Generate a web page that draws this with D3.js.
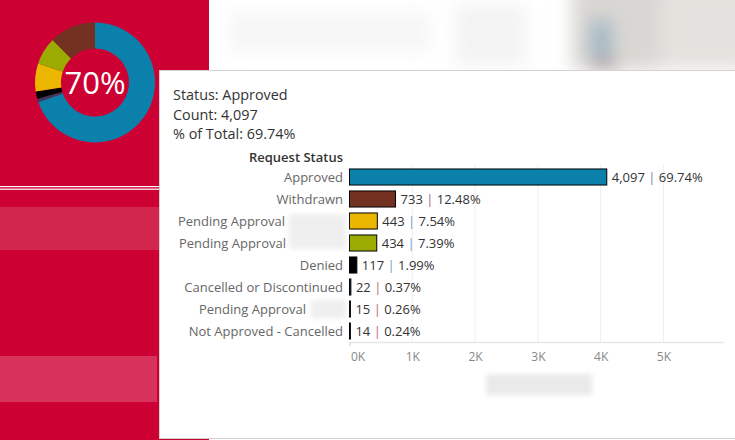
<!DOCTYPE html>
<html><head><meta charset="utf-8">
<script src="https://cdn.jsdelivr.net/npm/d3@7"></script>
<style>
html,body{margin:0;padding:0;background:#fff;overflow:hidden}
svg{display:block;font-family:"Open Sans","Noto Sans",sans-serif}
</style></head>
<body>
<svg id="c" width="735" height="440"></svg>
<script>
// ---- data ----
const categories = ["Approved","Withdrawn","Pending Approval","Pending Approval","Denied","Cancelled or Discontinued","Pending Approval","Not Approved - Cancelled"];
const counts = [4097,733,443,434,117,22,15,14];
const percents = ["69.74%","12.48%","7.54%","7.39%","1.99%","0.37%","0.26%","0.24%"];
const xTicks = [0,1000,2000,3000,4000,5000];
const xTickLabels = ["0K","1K","2K","3K","4K","5K"];
const donutOrder = [0,7,6,5,4,2,3,1]; // clockwise from 12 o'clock
const centerLabel = "70%";
const tooltipLines = ["Status: Approved","Count: 4,097","% of Total: 69.74%"];
const headerLabel = "Request Status";

// ---- styles ----
const fills = ["#0a80ab","#733122","#ebb600","#9cab00","#000000","#1b3f66","#2a4f70","#173a5c"];
const sepColors = ["#7d86a6","#a0607a","#6f9fd2","#6f9fd2","#6f9fd2","#b86a6a","#b86a6a","#b86a6a"];
const labelEnd = [343,343,285,286,343,343,306,343]; // where visible part of label ends (rest masked)
const RED = "#cc0033";

const svg = d3.select("#c");
const defs = svg.append("defs");
defs.append("filter").attr("id","blur8").attr("x","-50%").attr("y","-50%").attr("width","200%").attr("height","200%")
  .append("feGaussianBlur").attr("stdDeviation",9);
defs.append("filter").attr("id","blur3").attr("x","-50%").attr("y","-50%").attr("width","200%").attr("height","200%")
  .append("feGaussianBlur").attr("stdDeviation",2.5);

// background dashboard
svg.append("rect").attr("x",0).attr("y",0).attr("width",735).attr("height",440).attr("fill","#fff");
// blurred top-right region
const tr = svg.append("g").attr("filter","url(#blur8)");
tr.append("rect").attr("x",230).attr("y",12).attr("width",200).attr("height",40).attr("fill","#f6f6f6");
tr.append("rect").attr("x",455).attr("y",5).attr("width",70).attr("height",60).attr("fill","#f3f3f3");
tr.append("rect").attr("x",572).attr("y",-20).attr("width",190).attr("height",90).attr("fill","#d9d7d3");
tr.append("rect").attr("x",590).attr("y",20).attr("width",22).attr("height",38).attr("fill","#9fb7c4");
tr.append("rect").attr("x",592).attr("y",58).attr("width",24).attr("height",14).attr("fill","#b6a3a3");
tr.append("rect").attr("x",660).attr("y",-10).attr("width",90).attr("height",80).attr("fill","#e4e2de");

// red panel
svg.append("rect").attr("x",0).attr("y",0).attr("width",209).attr("height",440).attr("fill",RED);
svg.append("rect").attr("x",0).attr("y",186).attr("width",159).attr("height",1.2).attr("fill","#fff");
svg.append("rect").attr("x",0).attr("y",188.6).attr("width",159).attr("height",1.2).attr("fill","#fff");
svg.append("rect").attr("x",0).attr("y",207).attr("width",159).attr("height",43).attr("fill","#d3264e");
svg.append("rect").attr("x",0).attr("y",356).attr("width",157).attr("height",46).attr("fill","#d73259");

// donut
const donutData = donutOrder.map(i => ({i, v: counts[i]}));
const pie = d3.pie().sort(null).value(d => d.v);
const arc = d3.arc().innerRadius(34).outerRadius(60);
const dg = svg.append("g").attr("transform","translate(95,82.5)");
dg.selectAll("path").data(pie(donutData)).join("path")
  .attr("d",arc).attr("fill",d => fills[d.data.i]);
dg.append("text").attr("text-anchor","middle").attr("y",11).attr("fill","#fff")
  .style("font-size","31px").text(centerLabel);

// tooltip box
svg.append("rect").attr("x",159.5).attr("y",70.5).attr("width",590).attr("height",368)
  .attr("fill","#fff").attr("stroke","#d2d2d2").attr("stroke-width",1);

const tt = svg.append("g");
tooltipLines.forEach((t,k) => {
  tt.append("text").attr("x",173).attr("y",100 + k*19.5).attr("fill","#333")
    .style("font-size","14.4px").text(t);
});

// bar chart
const x = d3.scaleLinear().domain([0,5948]).range([349.5,723]);
const y = d3.scaleBand().domain(d3.range(categories.length)).range([166,342]).paddingInner(0.27).paddingOuter(0.135);

// grid
const grid = svg.append("g");
grid.selectAll("line").data(xTicks.slice(1)).join("line")
  .attr("x1",d=>x(d)).attr("x2",d=>x(d)).attr("y1",165).attr("y2",342)
  .attr("stroke","#efefef").attr("stroke-width",1);

svg.append("text").attr("x",343).attr("y",162).attr("text-anchor","end")
  .attr("fill","#333").style("font-size","13px").style("font-weight","600").text(headerLabel);

// axis
const axis = d3.axisBottom(x).tickValues(xTicks).tickFormat((d,k)=>xTickLabels[k]).tickSize(0).tickPadding(10);
const ag = svg.append("g").attr("transform","translate(0,342)").call(axis);
ag.select(".domain").attr("stroke","#e6e6e6").attr("stroke-width",1.5);
ag.selectAll("text").attr("fill","#888").style("font-size","12px").style("font-family","'Open Sans','Noto Sans',sans-serif");
ag.selectAll(".tick").filter(d=>d===0).select("text").attr("text-anchor","start").attr("dx",1);
ag.selectAll(".tick").filter(d=>d===0).append("line").attr("y1",0).attr("y2",4).attr("stroke","#ccc");

// row labels
svg.append("g").selectAll("text").data(categories).join("text")
  .attr("x",(d,i)=>labelEnd[i]).attr("y",(d,i)=>y(i)+y.bandwidth()/2+4.5).attr("text-anchor","end")
  .attr("fill","#666").style("font-size","13px").text(d=>d);

// bars
svg.append("g").selectAll("rect").data(counts).join("rect")
  .attr("x",x(0)).attr("y",(d,i)=>y(i)).attr("height",y.bandwidth())
  .attr("width",d=>Math.max(0.01,x(d)-x(0)))
  .attr("fill",(d,i)=>fills[i]).attr("stroke","#000").attr("stroke-width",1);

// bar value labels
const vl = svg.append("g");
counts.forEach((c,i) => {
  const t = vl.append("text").attr("x",x(c)+5).attr("y",y(i)+y.bandwidth()/2+4.5)
    .attr("fill","#333").style("font-size","13px");
  t.append("tspan").text(d3.format(",")(c)+" ");
  t.append("tspan").attr("fill",sepColors[i]).text("|");
  t.append("tspan").text(" "+percents[i]);
});

// blurred masks in labels
const mk = svg.append("g").attr("filter","url(#blur3)");
mk.append("rect").attr("x",289).attr("y",214).attr("width",57).attr("height",35).attr("fill","#efefef");
mk.append("rect").attr("x",311).attr("y",300).attr("width",35).attr("height",18).attr("fill","#efefef");
mk.append("rect").attr("x",486).attr("y",374).attr("width",106).attr("height",21).attr("fill","#eaeaea");
</script>
</body></html>
